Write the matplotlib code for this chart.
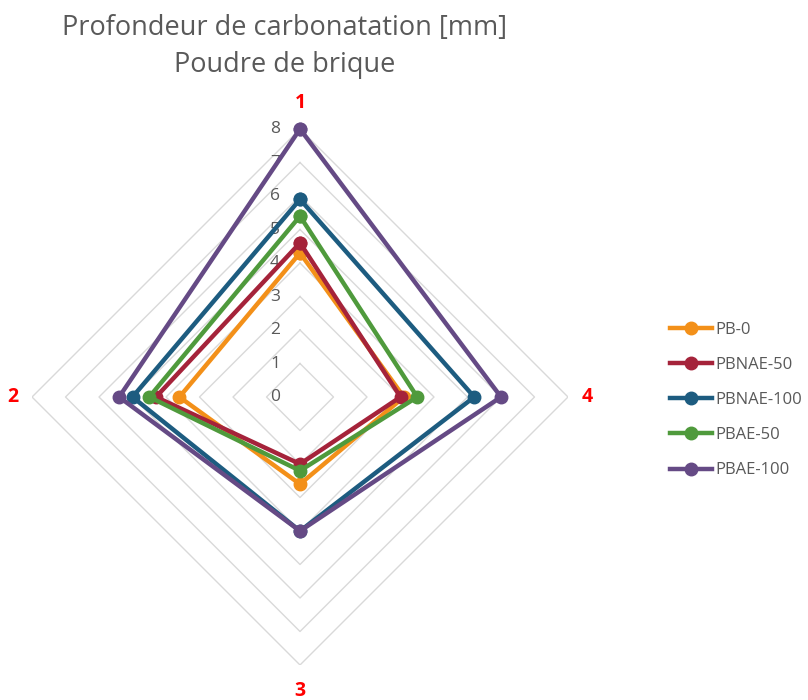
import numpy as np
import matplotlib
matplotlib.use("Agg")
import matplotlib.pyplot as plt
from matplotlib.transforms import offset_copy

categories = ["1", "2", "3", "4"]
series_names = ["PB-0", "PBNAE-50", "PBNAE-100", "PBAE-50", "PBAE-100"]
pb0 = [4.3, 3.6, 2.6, 3.1]
pbnae50 = [4.6, 4.3, 2.0, 3.0]
pbnae100 = [5.9, 5.0, 4.0, 5.2]
pbae50 = [5.4, 4.5, 2.2, 3.5]
pbae100 = [8.0, 5.4, 4.0, 6.0]
series_values = [pb0, pbnae50, pbnae100, pbae50, pbae100]
colors = ["#F39019", "#A5233A", "#1D5C80", "#4F9A3C", "#654A85"]
r_ticks = [0, 1, 2, 3, 4, 5, 6, 7, 8]

plt.rcParams['font.family'] = ['Open Sans', 'DejaVu Sans']

fig = plt.figure(figsize=(8.08, 7.0), dpi=100)
ax = fig.add_axes([0.0396, 0.05, 0.6634, 0.7657], projection='polar')
ax.set_theta_offset(np.pi / 2)
ax.set_theta_direction(1)
ax.set_ylim(0, 8)
ax.grid(False)
ax.spines['polar'].set_visible(False)
ax.set_xticks([])
ax.set_yticks([])

n = len(categories)
angles = [2 * np.pi * i / n for i in range(n)]
closed_angles = angles + angles[:1]

# diamond grid
for r in r_ticks[1:]:
    ax.plot(closed_angles, [r] * (n + 1), color="#D9D9D9", lw=1.0, zorder=1)

# radial tick labels
tick_tr = offset_copy(ax.transData, fig=fig, x=-20, y=0, units='dots')
for r in r_ticks:
    ax.text(0, r, str(r), ha='right', va='center', transform=tick_tr,
            fontsize=12.5, color="#595959", zorder=2)

for name, vals, c in zip(series_names, series_values, colors):
    ax.plot(closed_angles, list(vals) + [vals[0]], color=c, lw=3.2,
            marker='o', markersize=9, label=name, zorder=3, clip_on=False)

# category labels
label_r = [8.78, 8.57, 8.78, 8.57]
for a, lab, lr in zip(angles, categories, label_r):
    ax.text(a, lr, lab, ha='center', va='center', fontsize=14,
            fontweight='bold', color="#FF0000")

fig.text(285 / 808, 1 - 28 / 700, "Profondeur de carbonatation [mm]", ha='center',
         va='center', fontsize=19.5, color="#595959")
fig.text(285 / 808, 1 - 65 / 700, "Poudre de brique", ha='center',
         va='center', fontsize=19.5, color="#595959")

leg = ax.legend(loc='center left', bbox_to_anchor=(655 / 808, 1 - 400 / 700),
                bbox_transform=fig.transFigure, frameon=False, fontsize=12,
                labelcolor="#595959", handlelength=2.5, labelspacing=1.15,
                handletextpad=0.2)

fig.savefig("out.png", dpi=100)
